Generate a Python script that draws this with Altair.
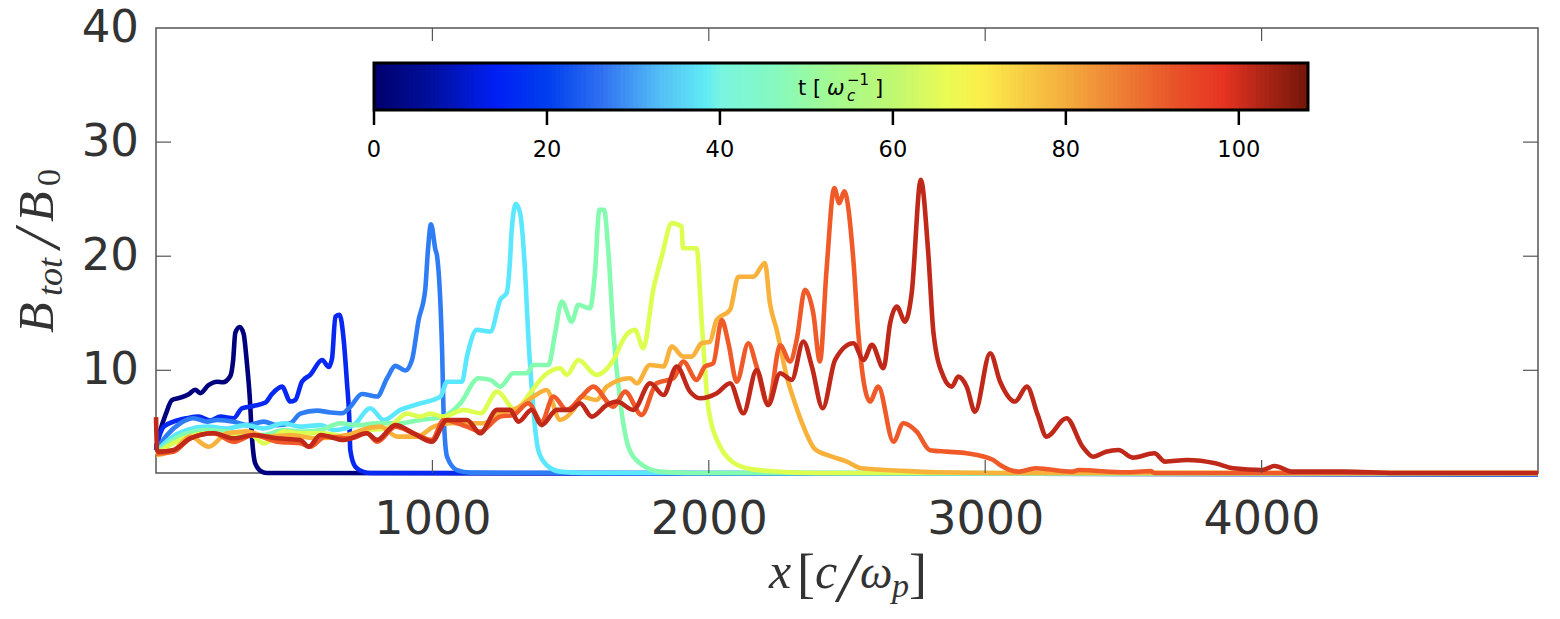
import altair as alt
import numpy as np
import pandas as pd

# Field profiles, one per time snapshot
x1 = [0, 16, 36, 58, 88, 118, 142, 160, 190, 221, 242, 269, 279, 287, 303, 317, 329, 339, 347, 359, 384, 402, 5000]
y1 = [3.0, 4.75, 6.2, 7.4, 7.6, 7.9, 8.3, 8.0, 8.7, 9.0, 8.95, 9.5, 10.85, 13.3, 13.8, 13.2, 10.6, 7.7, 4.2, 1.85, 1.1, 1.0, 0.9]

x2 = [0, 28, 64, 112, 154, 197, 233, 281, 311, 353, 396, 420, 456, 486, 504, 528, 558, 601, 625, 637, 649, 664, 679, 691, 699, 703, 721, 751, 775, 5000]
y2 = [3.3, 5.06, 5.5, 5.8, 5.94, 5.6, 5.94, 5.8, 6.67, 6.88, 7.17, 7.93, 8.57, 7.26, 7.4, 9.0, 9.6, 10.9, 10.3, 11.06, 14.7, 14.86, 12.67, 8.87, 5.94, 3.0, 1.55, 1.1, 1.0, 0.9]

x3 = [0, 40, 88, 136, 185, 221, 281, 329, 390, 438, 486, 522, 582, 631, 673, 703, 745, 800, 836, 866, 902, 926, 950, 974, 984, 995, 1011, 1017, 1035, 1041, 1053, 1089, 1137, 5000]
y3 = [3.0, 4.33, 5.36, 5.8, 5.5, 5.65, 5.5, 5.2, 5.5, 5.2, 5.36, 6.2, 6.47, 6.3, 6.23, 6.8, 7.93, 7.7, 9.3, 10.39, 9.98, 10.9, 14.4, 17.05, 20.56, 22.8, 20.56, 20.0, 11.8, 5.94, 2.43, 1.26, 1.03, 0.9]

x4 = [0, 52, 112, 185, 257, 323, 390, 462, 522, 595, 643, 715, 775, 824, 884, 956, 1029, 1053, 1107, 1125, 1161, 1210, 1246, 1269, 1281, 1287, 1302, 1317, 1335, 1347, 1359, 1371, 1383, 1413, 1462, 1546, 5000]
y4 = [2.87, 4.04, 4.77, 5.06, 4.9, 5.2, 4.9, 5.36, 5.06, 5.2, 4.77, 5.2, 6.67, 5.65, 6.53, 7.1, 7.7, 9.0, 9.0, 11.2, 13.54, 13.4, 16.2, 16.8, 19.7, 22.3, 24.6, 23.8, 18.8, 12.96, 8.57, 5.06, 3.0, 1.7, 1.12, 1.0, 0.95]

x5 = [0, 52, 112, 185, 257, 329, 390, 462, 522, 595, 667, 727, 800, 884, 956, 1041, 1101, 1167, 1210, 1245, 1293, 1341, 1365, 1420, 1444, 1468, 1504, 1528, 1570, 1588, 1604, 1621, 1637, 1655, 1679, 1709, 1751, 1823, 1932, 5000]
y5 = [2.72, 3.74, 4.48, 4.77, 4.63, 4.33, 4.33, 4.77, 4.63, 4.77, 5.36, 5.2, 5.36, 5.36, 5.65, 5.94, 7.1, 9.3, 9.16, 8.57, 9.74, 9.74, 10.47, 10.47, 13.25, 16.03, 14.27, 15.74, 15.44, 18.5, 24.07, 24.07, 20.27, 13.25, 7.4, 3.3, 1.85, 1.12, 1.0, 0.95]

x6 = [0, 40, 88, 185, 257, 329, 390, 462, 535, 607, 691, 775, 836, 908, 956, 992, 1041, 1113, 1174, 1234, 1245, 1299, 1353, 1401, 1462, 1486, 1528, 1594, 1655, 1697, 1733, 1763, 1799, 1830, 1866, 1902, 1906, 1956, 1974, 1998, 2041, 2077, 2137, 2209, 2390, 5000]
y6 = [2.57, 3.3, 3.9, 4.48, 4.33, 4.63, 3.6, 4.63, 4.48, 4.48, 4.19, 4.77, 4.9, 6.2, 5.94, 6.2, 5.94, 6.53, 6.23, 8.13, 7.99, 6.53, 7.99, 9.45, 10.18, 9.6, 10.9, 9.6, 10.9, 12.96, 13.54, 11.94, 17.05, 19.98, 22.9, 22.6, 20.7, 20.7, 14.4, 6.8, 3.3, 2.14, 1.41, 1.2, 1.0, 1.0]

x7 = [0, 64, 124, 191, 257, 329, 402, 486, 582, 691, 763, 812, 873, 945, 1005, 1065, 1186, 1245, 1305, 1365, 1413, 1462, 1510, 1540, 1594, 1631, 1715, 1739, 1787, 1836, 1866, 1908, 1938, 1974, 2004, 2028, 2077, 2107, 2161, 2203, 2221, 2246, 2282, 2312, 2342, 2384, 2438, 2499, 2553, 2692, 2825, 3054, 5000]
y7 = [2.57, 3.0, 4.2, 3.3, 4.48, 4.63, 4.19, 4.33, 4.04, 4.33, 4.9, 5.06, 4.19, 4.19, 5.06, 5.36, 5.36, 6.23, 6.67, 7.69, 8.28, 5.65, 6.53, 7.69, 7.4, 8.57, 9.3, 8.86, 10.47, 10.33, 12.08, 11.2, 11.2, 12.37, 12.5, 14.4, 15.3, 18.2, 18.2, 19.4, 15.9, 13.5, 9.45, 7.1, 5.1, 3.1, 2.5, 2.0, 1.41, 1.2, 1.06, 1.0, 1.0]

x8 = [0, 64, 124, 209, 281, 353, 438, 522, 558, 612, 703, 763, 800, 866, 932, 998, 1041, 1125, 1173, 1245, 1293, 1347, 1395, 1438, 1486, 1540, 1582, 1655, 1697, 1757, 1811, 1872, 1908, 1956, 1986, 2016, 2047, 2071, 2101, 2143, 2173, 2215, 2258, 2294, 2318, 2348, 2378, 2402, 2426, 2454, 2472, 2490, 2523, 2541, 2583, 2613, 2668, 2704, 2752, 2800, 2861, 2933, 3029, 3054, 3119, 3183, 3313, 3339, 3508, 3599, 3612, 5000]
y8 = [2.72, 2.87, 4.04, 4.48, 3.74, 4.33, 3.74, 3.6, 3.3, 4.19, 4.04, 4.48, 3.74, 5.06, 4.48, 3.9, 5.65, 5.06, 4.63, 5.94, 6.09, 7.11, 5.5, 7.7, 6.53, 7.7, 8.57, 6.82, 8.13, 6.09, 8.87, 9.3, 10.77, 9.16, 10.33, 10.62, 14.4, 12.37, 9.0, 12.37, 10.33, 6.96, 12.2, 10.77, 12.67, 17.05, 15.0, 10.77, 18.8, 25.97, 24.65, 25.68, 19.68, 13.25, 7.26, 8.57, 3.75, 5.36, 4.63, 3.0, 2.87, 2.73, 2.14, 1.7, 1.12, 1.41, 1.12, 1.26, 1.06, 1.17, 1.0, 1.0]

x9 = [0, 4, 10, 64, 124, 209, 281, 353, 438, 522, 552, 595, 679, 763, 800, 866, 932, 998, 1053, 1125, 1173, 1234, 1281, 1311, 1359, 1395, 1450, 1498, 1534, 1577, 1631, 1667, 1727, 1788, 1836, 1884, 1932, 1968, 2029, 2077, 2125, 2173, 2215, 2258, 2300, 2342, 2373, 2412, 2457, 2523, 2560, 2590, 2632, 2656, 2680, 2710, 2734, 2767, 2794, 2813, 2849, 2879, 2903, 2933, 2963, 3018, 3054, 3108, 3151, 3190, 3222, 3294, 3352, 3391, 3437, 3482, 3534, 3612, 3651, 3729, 3833, 3898, 4002, 4047, 4112, 4222, 4300, 4482, 5000]
y9 = [5.9, 3.0, 2.87, 3.02, 4.04, 4.48, 4.04, 4.33, 4.04, 3.9, 3.3, 4.33, 3.9, 4.48, 3.9, 5.2, 4.48, 3.75, 5.65, 5.65, 4.48, 6.53, 6.53, 5.5, 6.53, 5.2, 6.53, 6.53, 7.11, 5.94, 6.96, 7.26, 6.53, 8.87, 7.84, 10.33, 8.13, 7.55, 7.99, 8.87, 6.23, 10.03, 6.96, 9.74, 9.16, 12.52, 10.33, 6.67, 10.91, 12.37, 10.91, 12.23, 10.18, 14.13, 15.59, 14.27, 16.76, 26.7, 20.27, 13.25, 9.45, 8.57, 9.45, 8.57, 6.38, 11.5, 9.0, 7.26, 8.57, 6.09, 4.19, 5.8, 3.31, 2.43, 2.87, 3.02, 2.35, 2.73, 2.0, 2.14, 1.85, 1.41, 1.26, 1.61, 1.12, 1.12, 1.12, 1.0, 1.0]

series_x = [x1, x2, x3, x4, x5, x6, x7, x8, x9]
series_y = [y1, y2, y3, y4, y5, y6, y7, y8, y9]
series_colors = ["#00007f", "#0628f2", "#2f7df5", "#5be8ff", "#85fbb0", "#dcff50", "#f8b23c", "#f05a28", "#c0281a"]

# Colorbar
cbar_stops = [0, 6, 14, 20, 26, 33, 38, 40, 46, 52, 60, 66, 70, 78, 86, 92, 98, 103, 108]
cbar_colors = ["#00006e", "#000f9a", "#0020f5", "#0040ee", "#3070f0", "#55c0f5", "#60eaf5", "#7af5e0", "#85f9c0",
               "#a0fa95", "#c0f870", "#eafb55", "#fbee4c", "#f5b840", "#ee8035", "#e8552a", "#e63322", "#a82415", "#701508"]
cbar_ticks = [0, 20, 40, 60, 80, 100]

x_ticks = [1000, 2000, 3000, 4000]
y_ticks = [10, 20, 30]
y_labels = [10, 20, 30, 40]

W, H = 1382, 445
AXIS_COLOR = "#555555"
TEXT_COLOR = "#333333"
x_scale = alt.Scale(domain=[0, 5000], nice=False, zero=False)
y_scale = alt.Scale(domain=[1, 40], nice=False, zero=False)
t_scale = alt.Scale(domain=[0, 108], range=[218, 1152], nice=False, zero=False)

layers = []

# the first line layer carries the big x labels, the inward ticks are drawn as rules
for i in range(len(series_x)):
    df = pd.DataFrame({"x": series_x[i], "y": series_y[i]})
    if i == 0:
        x_enc = alt.X("x:Q", scale=x_scale, title=None, axis=alt.Axis(
            values=x_ticks, format="d", tickSize=0, domain=False, grid=False, labelFontSize=46,
            labelColor=TEXT_COLOR, labelFont="DejaVu Sans", labelPadding=24))
    else:
        x_enc = alt.X("x:Q", scale=x_scale, axis=None)
    layers.append(alt.Chart(df).mark_line(color=series_colors[i], strokeWidth=4.6, strokeJoin="round",
                                          interpolate="monotone", clip=False).encode(
        x=x_enc, y=alt.Y("y:Q", scale=y_scale, axis=None)))

layers.append(alt.Chart(pd.DataFrame({"v": y_labels})).mark_text(
    fontSize=45, font="DejaVu Sans", color=TEXT_COLOR, align="right", baseline="middle").encode(
    y=alt.Y("v:Q", scale=y_scale, axis=None), x=alt.value(-17), text="v:Q"))

xt = pd.DataFrame({"v": x_ticks})
yt = pd.DataFrame({"v": y_ticks})
for top, bottom in [(H - 13, H), (0, 13)]:
    layers.append(alt.Chart(xt).mark_rule(color=AXIS_COLOR, strokeWidth=1.2).encode(
        x=alt.X("v:Q", scale=x_scale, axis=None), y=alt.value(top), y2=alt.value(bottom)))
for left, right in [(0, 15), (W - 15, W)]:
    layers.append(alt.Chart(yt).mark_rule(color=AXIS_COLOR, strokeWidth=1.2).encode(
        y=alt.Y("v:Q", scale=y_scale, axis=None), x=alt.value(left), x2=alt.value(right)))

# colorbar on its own t scale
cells = pd.DataFrame({"t": np.arange(0, 108, 0.5)})
cells["t_end"] = np.minimum(cells["t"] + 0.8, 108)
layers.append(alt.Chart(cells).mark_rect().encode(
    x=alt.X("t:Q", scale=t_scale, axis=None),
    x2="t_end:Q",
    y=alt.value(35), y2=alt.value(82),
    color=alt.Color("t:Q", scale=alt.Scale(domain=cbar_stops, range=cbar_colors, interpolate="rgb"), legend=None)))
layers.append(alt.Chart(pd.DataFrame({"t": [0], "t_end": [108]})).mark_rect(fill=None, stroke="black", strokeWidth=3).encode(
    x=alt.X("t:Q", scale=t_scale, axis=None), x2="t_end:Q", y=alt.value(35), y2=alt.value(82)))
ct = pd.DataFrame({"t": cbar_ticks})
layers.append(alt.Chart(ct).mark_rule(color="black", strokeWidth=2.5).encode(
    x=alt.X("t:Q", scale=t_scale, axis=None), y=alt.value(83), y2=alt.value(97)))
layers.append(alt.Chart(ct).mark_text(fontSize=22.5, font="DejaVu Sans", color="black", baseline="middle").encode(
    x=alt.X("t:Q", scale=t_scale, axis=None), y=alt.value(122), text="t:Q"))


def label(text, px, py, size, font="DejaVu Sans", style="normal", color=TEXT_COLOR, angle=0):
    # px, py are picture coordinates, the plot area starts at (156, 28)
    return alt.Chart(pd.DataFrame({"s": [text]})).mark_text(
        fontSize=size, font=font, fontStyle=style, color=color, angle=angle, align="left", baseline="alphabetic"
    ).encode(x=alt.value(px - 156), y=alt.value(py - 28), text="s:N")


SERIF = "Liberation Serif"
layers += [
    label("B", 53, 333, 50, SERIF, "italic", angle=270),
    label("tot", 62, 296, 36, SERIF, "italic", angle=270),
    label("/", 59, 248, 66, SERIF, "italic", angle=270),
    label("B", 53, 222, 50, SERIF, "italic", angle=270),
    label("0", 60, 186, 34, SERIF, angle=270),
    label("x", 769, 588, 50, SERIF, "italic"),
    label("[", 797, 592, 54, SERIF),
    label("c", 815, 588, 50, SERIF, "italic"),
    label("/", 838, 601, 70, SERIF, "italic"),
    label("ω", 860, 588, 46, SERIF, "italic"),
    label("p", 892, 597, 34, SERIF, "italic"),
    label("]", 909, 592, 54, SERIF),
    label("t [", 798, 95, 21, color="black"),
    label("ω", 827, 95, 21, style="italic", color="black"),
    label("c", 847, 101, 15, style="italic", color="black"),
    label("−1", 847, 85, 15, color="black"),
    label("]", 875, 95, 21, color="black"),
]

chart = alt.layer(*layers).resolve_scale(x="independent", color="independent").properties(
    width=W, height=H,
    background="white",
    autosize=alt.AutoSizeParams(type="none"),
    padding={"left": 148, "top": 20, "right": 14, "bottom": 138},
).configure_view(stroke=AXIS_COLOR, strokeWidth=1.5)

chart.save("out.html", embed_options={"renderer": "svg", "actions": False})
